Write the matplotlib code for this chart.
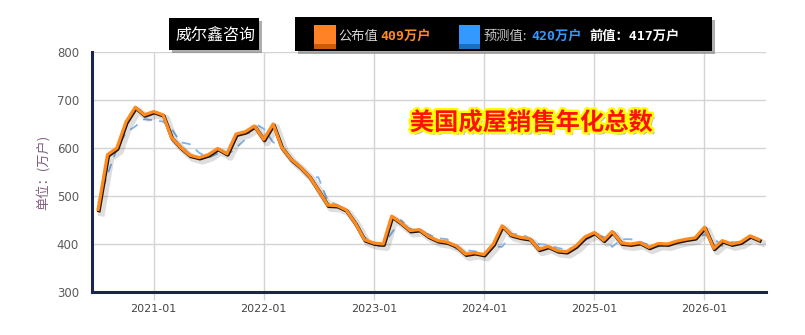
import matplotlib
matplotlib.use("Agg")
import matplotlib.pyplot as plt
import matplotlib.dates as mdates
import matplotlib.patheffects as pe
from matplotlib.patches import Rectangle
import pandas as pd

plt.rcParams['font.family'] = ['Noto Sans CJK SC', 'DejaVu Sans']

# ---------------- data ----------------
start_month = "2020-07-01"
published = [472, 586, 600, 654, 685, 669, 676, 669, 622, 601, 585, 580,
             586, 599, 588, 629, 634, 646, 618, 650, 602, 577, 561, 541,
             512, 481, 480, 471, 443, 409, 402, 400, 458, 444, 428, 430,
             416, 407, 404, 396, 379, 382, 378, 400, 438, 419, 414, 411,
             389, 395, 386, 384, 396, 415, 424, 408, 426, 402, 400, 403,
             393, 401, 400, 406, 410, 413, 435, 391, 407, 400, 404, 417,
             409]
forecast = [485, 545, 598, 632, 645, 660, 658, 655, 640, 612, 608, 590,
            580, 588, 585, 600, 618, 652, 640, 612, 605, 580, 560, 540,
            539, 490, 482, 468, 440, 415, 395, 396, 423, 450, 432, 425,
            420, 412, 410, 390, 387, 385, 380, 395, 394, 420, 421, 412,
            400, 398, 392, 388, 395, 408, 418, 415, 394, 410, 410, 405,
            398, 395, 398, 403, 408, 410, 420, 412, 396, 404, 403, 415,
            420]
dates = pd.date_range(start_month, periods=len(published), freq="MS")
y_ticks = [300, 400, 500, 600, 700, 800]
x_tick_labels = ["2021-01", "2022-01", "2023-01", "2024-01", "2025-01", "2026-01"]

title_text = "美国成屋销售年化总数"
brand_text = "威尔鑫咨询"
pub_label, pub_value = "公布值", "409万户"
fc_label, fc_value = "预测值:", "420万户"
prev_text = "前值：417万户"
ylabel_text = "单位：(万户)"

# ---------------- figure ----------------
W, H = 805, 335
fig = plt.figure(figsize=(W / 100, H / 100), dpi=100)
fig.patch.set_facecolor("white")

def fx(x):
    return x / W

def fy(y):
    return 1 - y / H

ax = fig.add_axes([fx(91.5), fy(292), fx(766) - fx(91.5), fy(52) - fy(292)])

ax.set_ylim(300, 800)
ax.set_xlim(pd.Timestamp("2020-06-09"), pd.Timestamp("2026-07-24"))
ax.set_yticks(y_ticks)
xt = [pd.Timestamp(s + "-01") for s in x_tick_labels]
ax.set_xticks(xt)
ax.set_xticklabels(x_tick_labels)

ax.grid(True, color="#d4d4d4", linewidth=1)
ax.set_axisbelow(True)
for s in ["top", "right"]:
    ax.spines[s].set_visible(False)
for s in ["left", "bottom"]:
    ax.spines[s].set_color("#1c2550")
    ax.spines[s].set_linewidth(2.2)
ax.tick_params(axis="y", length=0, pad=9, labelsize=8.5, labelcolor="#5a5a5a")
ax.tick_params(axis="x", length=6, width=1, color="#cfd4dc", pad=3,
               labelsize=8, labelcolor="#444444")
for lab in ax.get_yticklabels() + ax.get_xticklabels():
    lab.set_family("DejaVu Sans")

ax.set_ylabel(ylabel_text, color="#7e5f80", fontsize=9.5, labelpad=5)

# forecast dashed
ax.plot(dates, forecast, color="#7fb3ea", linewidth=1.3, dashes=(5, 4), zorder=3)
# published line with shadow
ax.plot(dates, published, color="#ff8a1e", linewidth=2.3, zorder=4,
        solid_joinstyle="round",
        path_effects=[pe.SimpleLineShadow(offset=(2.5, -2.5), shadow_color="black",
                                          alpha=0.13, linewidth=5),
                      pe.Stroke(offset=(0.6, -0.8), linewidth=2.6, foreground="#2a1500"),
                      pe.Normal()])

# chart title
fig.text(fx(531), fy(123), title_text, color="#ff1010", fontsize=17.5,
         fontweight="bold", ha="center", va="center",
         path_effects=[pe.SimplePatchShadow(offset=(2, -2), shadow_rgbFace="gray", alpha=0.5),
                       pe.Stroke(linewidth=3.5, foreground="#ffff00"),
                       pe.Normal()])

# header boxes
def box(x0, y0, x1, y1):
    fig.patches.append(Rectangle((fx(x0 + 3), fy(y1 + 3)), fx(x1) - fx(x0), fy(y0) - fy(y1),
                                 transform=fig.transFigure, facecolor="#777777",
                                 alpha=0.6, edgecolor="none", zorder=0))
    fig.patches.append(Rectangle((fx(x0), fy(y1)), fx(x1) - fx(x0), fy(y0) - fy(y1),
                                 transform=fig.transFigure, facecolor="black",
                                 edgecolor="none", zorder=1))

box(169, 18, 259, 50)
box(295, 17, 712, 51)

def square(x0, x1, top_col, bottom_col):
    fig.patches.append(Rectangle((fx(x0), fy(49)), fx(x1) - fx(x0), fy(25) - fy(49),
                                 transform=fig.transFigure, facecolor=top_col,
                                 edgecolor="none", zorder=2))
    fig.patches.append(Rectangle((fx(x0), fy(49)), fx(x1) - fx(x0), fy(44) - fy(49),
                                 transform=fig.transFigure, facecolor=bottom_col,
                                 edgecolor="none", zorder=3))

square(314, 336, "#ff8326", "#cc5a08")
square(458.5, 479.5, "#3399ff", "#1a6fc0")

ty = fy(36)
fig.text(fx(215), ty, brand_text, color="white", fontsize=11.5, ha="center", va="center")
fig.text(fx(338), ty, pub_label, color="#d6d6d6", fontsize=9.5, ha="left", va="center")
fig.text(fx(380), ty, pub_value, color="#ff8a1e", fontsize=9.5, fontweight="bold",
         ha="left", va="center", family=["DejaVu Sans Mono", "Noto Sans CJK SC"])
fig.text(fx(483), ty, fc_label, color="#c8c8c8", fontsize=9.5, ha="left", va="center")
fig.text(fx(531), ty, fc_value, color="#3399ff", fontsize=9.5, fontweight="bold",
         ha="left", va="center", family=["DejaVu Sans Mono", "Noto Sans CJK SC"])
fig.text(fx(589), ty, prev_text, color="white", fontsize=9.5, fontweight="bold",
         ha="left", va="center", family=["DejaVu Sans Mono", "Noto Sans CJK SC"])

fig.savefig("out.png", dpi=100)
